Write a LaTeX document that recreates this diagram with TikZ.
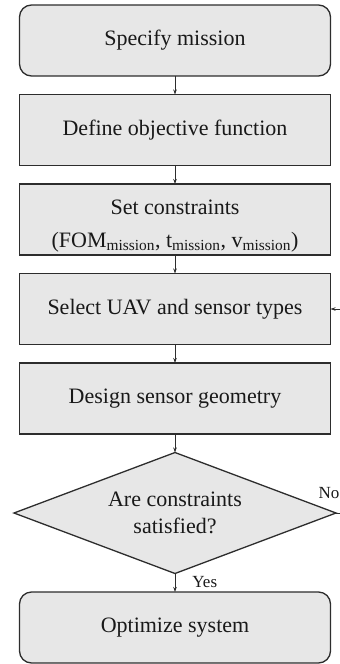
\documentclass[tikz,border=0pt]{standalone}
\usepackage{fontspec}
\setmainfont{Liberation Serif}
\usetikzlibrary{arrows.meta,positioning,shapes.geometric}
\definecolor{caja}{RGB}{231,231,231}
\definecolor{borde}{RGB}{45,45,45}
\definecolor{texto}{RGB}{25,25,25}

\begin{document}
\begin{tikzpicture}[
  x=1pt,y=1pt,
  stepbox/.style={draw=borde,line width=1.3pt,fill=caja,minimum width=311pt,minimum height=71pt,
    inner sep=0pt,outer sep=0pt,align=center,text=texto,font=\fontsize{22}{33}\selectfont},
  endbox/.style={stepbox,rounded corners=12pt},
  decision/.style={draw=borde,line width=1.3pt,fill=caja,diamond,aspect=2.66,minimum width=322pt,
    minimum height=121pt,inner sep=0pt,outer sep=0pt,align=center,text=texto,
    font=\fontsize{22}{27}\selectfont},
  link/.style={draw=borde,line width=0.8pt,-{Stealth[length=5pt,width=3.5pt]}},
  lbl/.style={text=texto,font=\fontsize{17}{20}\selectfont,inner sep=1pt}
]
\useasboundingbox (0,0) rectangle (340,-664);
\clip (0,0) rectangle (340,-664);

\node[endbox] (mission) at (175,-40.5) {Specify mission};
\node[stepbox,below=18.5pt of mission] (objective) {Define objective function};
\node[stepbox,below=18.5pt of objective] (constraints)
{\rule{0pt}{28pt}Set constraints\\(FOM\textsubscript{mission}, t\textsubscript{mission}, v\textsubscript{mission})};
\node[stepbox,below=18.5pt of constraints] (uav) {Select UAV and sensor types};
\node[stepbox,below=18.5pt of uav] (geometry) {Design sensor geometry};
\node[decision,below=18.5pt of geometry] (check) {Are constraints\\satisfied?};
\node[endbox,below=18.5pt of check] (optimize) {Optimize system};

% feedback loop runs off the right edge
\coordinate (ret) at (360,0);

\draw[link] (mission) -- (objective);
\draw[link] (objective) -- (constraints);
\draw[link] (constraints) -- (uav);
\draw[link] (uav) -- (geometry);
\draw[link] (geometry) -- (check);
\draw[link] (check) -- node[lbl,right=16pt,yshift=1pt]{Yes} (optimize);
\draw[link] (check.east) -- node[lbl,pos=0,anchor=south,xshift=-7pt,yshift=13pt]{No}
  (check.east -| ret) |- (uav.east);
\end{tikzpicture}
\end{document}
